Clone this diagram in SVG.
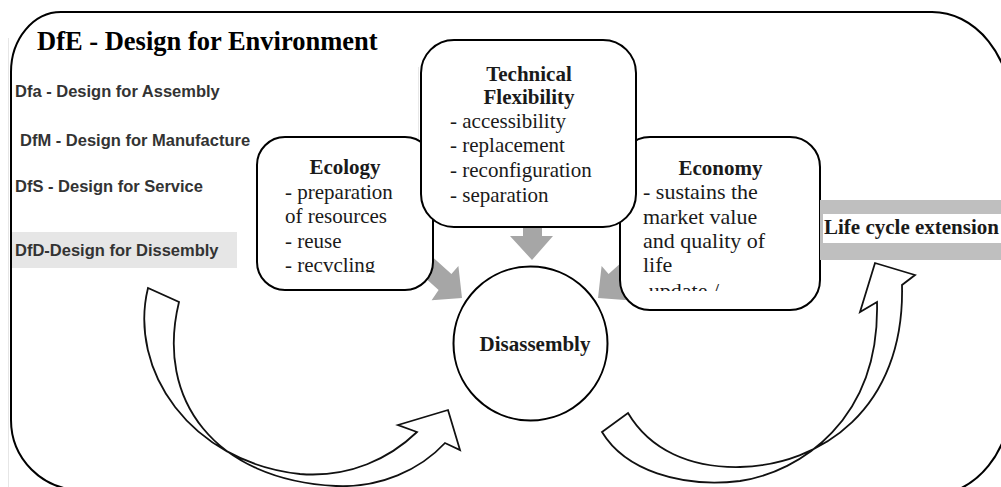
<svg xmlns="http://www.w3.org/2000/svg" width="1001" height="487" viewBox="0 0 1001 487">
  <defs>
    <style>
      .frame{fill:none;stroke:#000;stroke-width:2}
      .box{fill:#fff;stroke:#000;stroke-width:2}
      .garrow{fill:#a6a6a6;stroke:none}
      .carrow{fill:none;stroke:#111;stroke-width:1.8;stroke-linejoin:miter}
      .list{font-family:"Liberation Sans",Arial,sans-serif;font-weight:bold;font-size:16.5px;fill:#333}
      .title{font-family:"Liberation Serif","Times New Roman",serif;font-weight:bold;font-size:26.5px;fill:#000}
      .head{font-family:"Liberation Serif","Times New Roman",serif;font-weight:bold;font-size:21px;fill:#1a1a1a}
      .body{font-family:"Liberation Serif","Times New Roman",serif;font-size:21px;fill:#1a1a1a}
      .body22{font-family:"Liberation Serif","Times New Roman",serif;font-size:22px;fill:#1a1a1a}
    </style>
    <clipPath id="clipEco"><rect x="258" y="138" width="174" height="134.5"/></clipPath>
    <clipPath id="clipEcon"><rect x="621" y="138" width="198" height="153"/></clipPath>
  </defs>

  <rect x="0" y="0" width="1001" height="487" fill="#fff"/>

  <g id="background">
    <line x1="8.5" y1="38" x2="8.5" y2="487" stroke="#e6e6e6" stroke-width="1"/>
    <line x1="418.5" y1="67" x2="418.5" y2="197" stroke="#e8e8e8" stroke-width="1"/>
    <path class="frame" d="M61,12 H932 A80,100 0 0 1 1012,112 V395 A80,100 0 0 1 932,495 L81,490 A70,70 0 0 1 11,420 V72 A50,60 0 0 1 61,12 Z"/>
  </g>

  <g id="title">
    <text class="title" x="37" y="50">DfE - Design for Environment</text>
  </g>

  <g id="design-list">
    <text class="list" x="15" y="97">Dfa - Design for Assembly</text>
    <text class="list" x="20" y="146">DfM - Design for Manufacture</text>
    <text class="list" x="15" y="192">DfS - Design for Service</text>
    <rect x="12" y="232" width="225" height="36" fill="#e6e6e6"/>
    <text class="list" x="15" y="256">DfD-Design for Dissembly</text>
  </g>

  <g id="connectors">
    <polygon class="garrow" points="431.4,256 451.4,274 458.4,266 462,298 431.6,300.2 438.6,290 418.6,272"/>
    <polygon class="garrow" points="523,226 542,226 542,236 553,236 532,260 510,236 523,236"/>
    <polygon class="garrow" points="628.6,256 608.6,274 601.6,266 598,298 628.4,300.2 621.4,290 641.4,272"/>
    <path class="carrow" d="M148,288 C128,370 190,462 300,474 C350,478 390,458 417,432 L398,425 L448,410 L460,450 L445,443 C420,470 380,488 336,486 C215,480 155,400 179,302 Z"/>
    <path class="carrow" d="M602,432 C625,470 680,488 740,481 C800,472 880,420 877,302 L860,312 L875,263 L915,275 L902,285 C905,410 820,465 740,467 C690,468 650,450 628,413 Z"/>
  </g>

  <g id="node-ecology">
    <rect class="box" x="257" y="137" width="176" height="153" rx="28" ry="28"/>
    <g clip-path="url(#clipEco)">
      <text class="head" x="345" y="174.3" text-anchor="middle">Ecology</text>
      <text class="body" x="285" y="198.5">- preparation</text>
      <text class="body" x="285" y="223">of resources</text>
      <text class="body" x="285" y="247.5">- reuse</text>
      <text class="body" x="285" y="272">- recvcling</text>
    </g>
  </g>

  <g id="node-economy">
    <rect class="box" x="620" y="137" width="200" height="173" rx="30" ry="30"/>
    <g clip-path="url(#clipEcon)">
      <text class="head" x="720.5" y="175" text-anchor="middle">Economy</text>
      <text class="body22" x="643" y="199">- sustains the</text>
      <text class="body22" x="643" y="223.5">market value</text>
      <text class="body22" x="643" y="248">and quality of</text>
      <text class="body22" x="643" y="272">life</text>
      <text class="body22" x="636" y="297.5">- update /</text>
    </g>
  </g>

  <g id="node-technical">
    <rect class="box" x="421" y="40" width="215" height="187" rx="33" ry="33"/>
    <text class="head" x="529" y="80.7" text-anchor="middle">Technical</text>
    <text class="head" x="529" y="104" text-anchor="middle">Flexibility</text>
    <text class="body" x="450" y="127.7">- accessibility</text>
    <text class="body" x="450" y="151.7">- replacement</text>
    <text class="body" x="450" y="176.7">- reconfiguration</text>
    <text class="body" x="450" y="201.7">- separation</text>
  </g>

  <g id="node-disassembly">
    <circle cx="530.5" cy="343.5" r="77" fill="#fff" stroke="#000" stroke-width="2"/>
    <text class="head" x="535" y="351" text-anchor="middle">Disassembly</text>
  </g>

  <g id="node-lifecycle">
    <rect x="820" y="200" width="181" height="60" fill="#bfbfbf"/>
    <rect x="823" y="214" width="178" height="29" fill="#fff"/>
    <text class="head" x="824" y="234">Life cycle extension</text>
  </g>
</svg>
